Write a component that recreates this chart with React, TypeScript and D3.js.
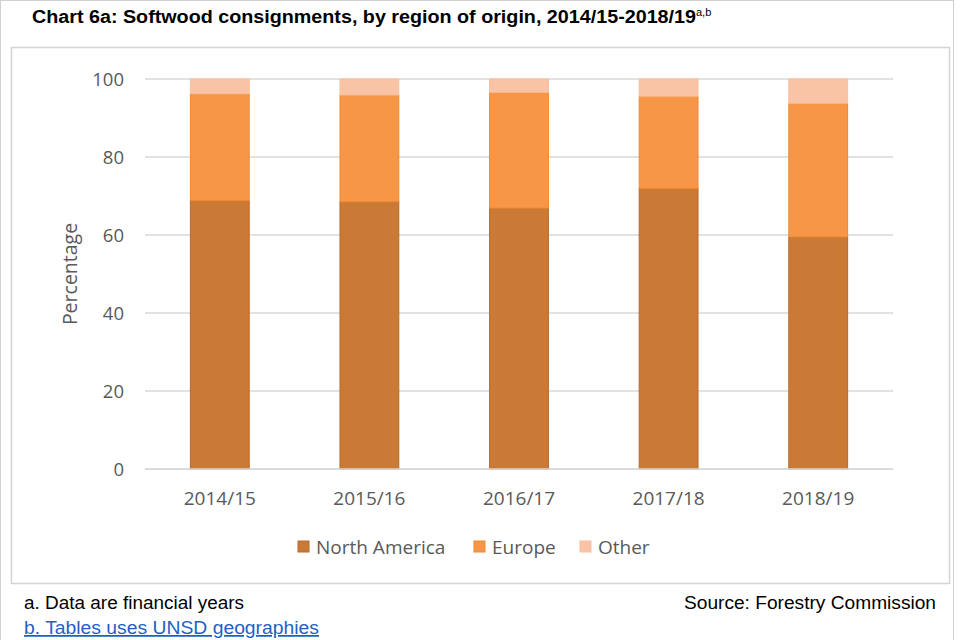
import { useEffect, useRef } from 'react'
import * as d3 from 'd3'

const YEARS = ['2014/15', '2015/16', '2016/17', '2017/18', '2018/19']
const NORTH_AMERICA = [68.8, 68.5, 66.9, 71.9, 59.5]
const EUROPE = [27.4, 27.4, 29.7, 23.7, 34.3]
const OTHER = [3.8, 4.1, 3.4, 4.4, 6.2]
const Y_TICKS = [0, 20, 40, 60, 80, 100]

const SERIES = [
  { key: 'North America', values: NORTH_AMERICA, fill: '#CB7A36', stroke: '#B96A2A' },
  { key: 'Europe', values: EUROPE, fill: '#F79646', stroke: '#F0892F' },
  { key: 'Other', values: OTHER, fill: '#F9C3A6', stroke: '#F8C09D' },
]

const FONT = "'Open Sans', 'Noto Sans', sans-serif"
const ARIAL = "Arial, 'Liberation Sans', sans-serif"

export default function App() {
  const svgRef = useRef<SVGSVGElement>(null)

  useEffect(() => {
    document.body.style.margin = '0'
    if (!svgRef.current) return
    const svg = d3.select(svgRef.current)
    svg.selectAll('*').remove()

    const W = 960
    const H = 640
    const plot = { left: 145, right: 893, top: 79, bottom: 469 }

    svg.append('rect').attr('width', W).attr('height', H).attr('fill', '#fff')

    // outer page border
    svg.append('rect').attr('x', 0.5).attr('y', 0.5).attr('width', W - 7).attr('height', H + 10)
      .attr('fill', 'none').attr('stroke', '#D0D0D0')

    // Title
    const title = svg.append('text').attr('x', 32).attr('y', 23)
      .attr('font-family', ARIAL).attr('font-size', '17.5px').attr('font-weight', 'bold').attr('fill', '#000')
    title.append('tspan').attr('textLength', 664).attr('lengthAdjust', 'spacingAndGlyphs')
      .text('Chart 6a: Softwood consignments, by region of origin, 2014/15-2018/19')
    title.append('tspan').attr('dy', -7).attr('font-size', '11px').attr('font-weight', 'normal').text('a,b')

    // chart frame
    svg.append('rect').attr('x', 11.5).attr('y', 47.5).attr('width', 938).attr('height', 536)
      .attr('fill', '#fff').attr('stroke', '#D4D4D4').attr('stroke-width', 1.5)

    const x = d3.scaleBand().domain(YEARS).range([plot.left, plot.right]).paddingInner(0.6).paddingOuter(0.3)
    const y = d3.scaleLinear().domain([0, 100]).range([plot.bottom, plot.top])

    // gridlines
    svg.append('g').selectAll('line').data(Y_TICKS).join('line')
      .attr('x1', plot.left).attr('x2', plot.right)
      .attr('y1', d => y(d)).attr('y2', d => y(d))
      .attr('stroke', '#D9D9D9').attr('stroke-width', 1.3)

    // y labels
    svg.append('g').selectAll('text').data(Y_TICKS).join('text')
      .attr('x', 124).attr('y', d => y(d) + 7)
      .attr('text-anchor', 'end').attr('font-family', FONT).attr('font-size', '18.5px').attr('fill', '#595959')
      .text(d => d)

    svg.append('text').attr('transform', `translate(77,${(plot.top + plot.bottom) / 2}) rotate(-90)`)
      .attr('text-anchor', 'middle').attr('font-family', FONT).attr('font-size', '19.5px').attr('fill', '#595959')
      .text('Percentage')

    // stacked bars
    const rows = YEARS.map((yr, i) => {
      const row: Record<string, number | string> = { year: yr }
      SERIES.forEach(s => { row[s.key] = s.values[i] })
      return row
    })
    const stack = d3.stack<Record<string, number | string>>().keys(SERIES.map(s => s.key))
    const layers = stack(rows as any)

    layers.forEach((layer, li) => {
      const s = SERIES[li]
      svg.append('g').selectAll('rect').data(layer).join('rect')
        .attr('x', d => x(d.data.year as string)! + 0.5)
        .attr('width', x.bandwidth() - 1)
        .attr('y', d => y(d[1]))
        .attr('height', d => y(d[0]) - y(d[1]))
        .attr('fill', s.fill).attr('stroke', s.stroke).attr('stroke-width', 1)
    })

    // baseline
    svg.append('line').attr('x1', plot.left).attr('x2', plot.right)
      .attr('y1', y(0)).attr('y2', y(0)).attr('stroke', '#D9D9D9').attr('stroke-width', 1.3)

    // x labels
    svg.append('g').selectAll('text').data(YEARS).join('text')
      .attr('x', d => x(d)! + x.bandwidth() / 2).attr('y', 505)
      .attr('text-anchor', 'middle').attr('font-family', FONT).attr('font-size', '19px').attr('fill', '#595959')
      .text(d => d)

    // legend
    const legendX = [298, 474, 580]
    SERIES.forEach((s, i) => {
      svg.append('rect').attr('x', legendX[i]).attr('y', 541).attr('width', 11).attr('height', 11)
        .attr('fill', s.fill).attr('stroke', s.stroke)
      svg.append('text').attr('x', legendX[i] + 18).attr('y', 554)
        .attr('font-family', FONT).attr('font-size', '19px').attr('fill', '#595959').text(s.key)
    })

    // footnotes
    svg.append('text').attr('x', 24).attr('y', 609).attr('font-family', ARIAL).attr('font-size', '17.5px')
      .attr('textLength', 220).attr('lengthAdjust', 'spacingAndGlyphs')
      .attr('fill', '#000').text('a. Data are financial years')
    svg.append('text').attr('x', 24).attr('y', 634).attr('font-family', ARIAL).attr('font-size', '17.5px')
      .attr('textLength', 295).attr('lengthAdjust', 'spacingAndGlyphs')
      .attr('fill', '#1F5FC4').attr('text-decoration', 'underline').text('b. Tables uses UNSD geographies')
    svg.append('text').attr('x', 684).attr('y', 609).attr('font-family', ARIAL)
      .attr('textLength', 252).attr('lengthAdjust', 'spacingAndGlyphs')
      .attr('font-size', '17.5px').attr('fill', '#000').text('Source: Forestry Commission')
  }, [])

  return <svg ref={svgRef} width={960} height={640} style={{ display: 'block' }} />
}
